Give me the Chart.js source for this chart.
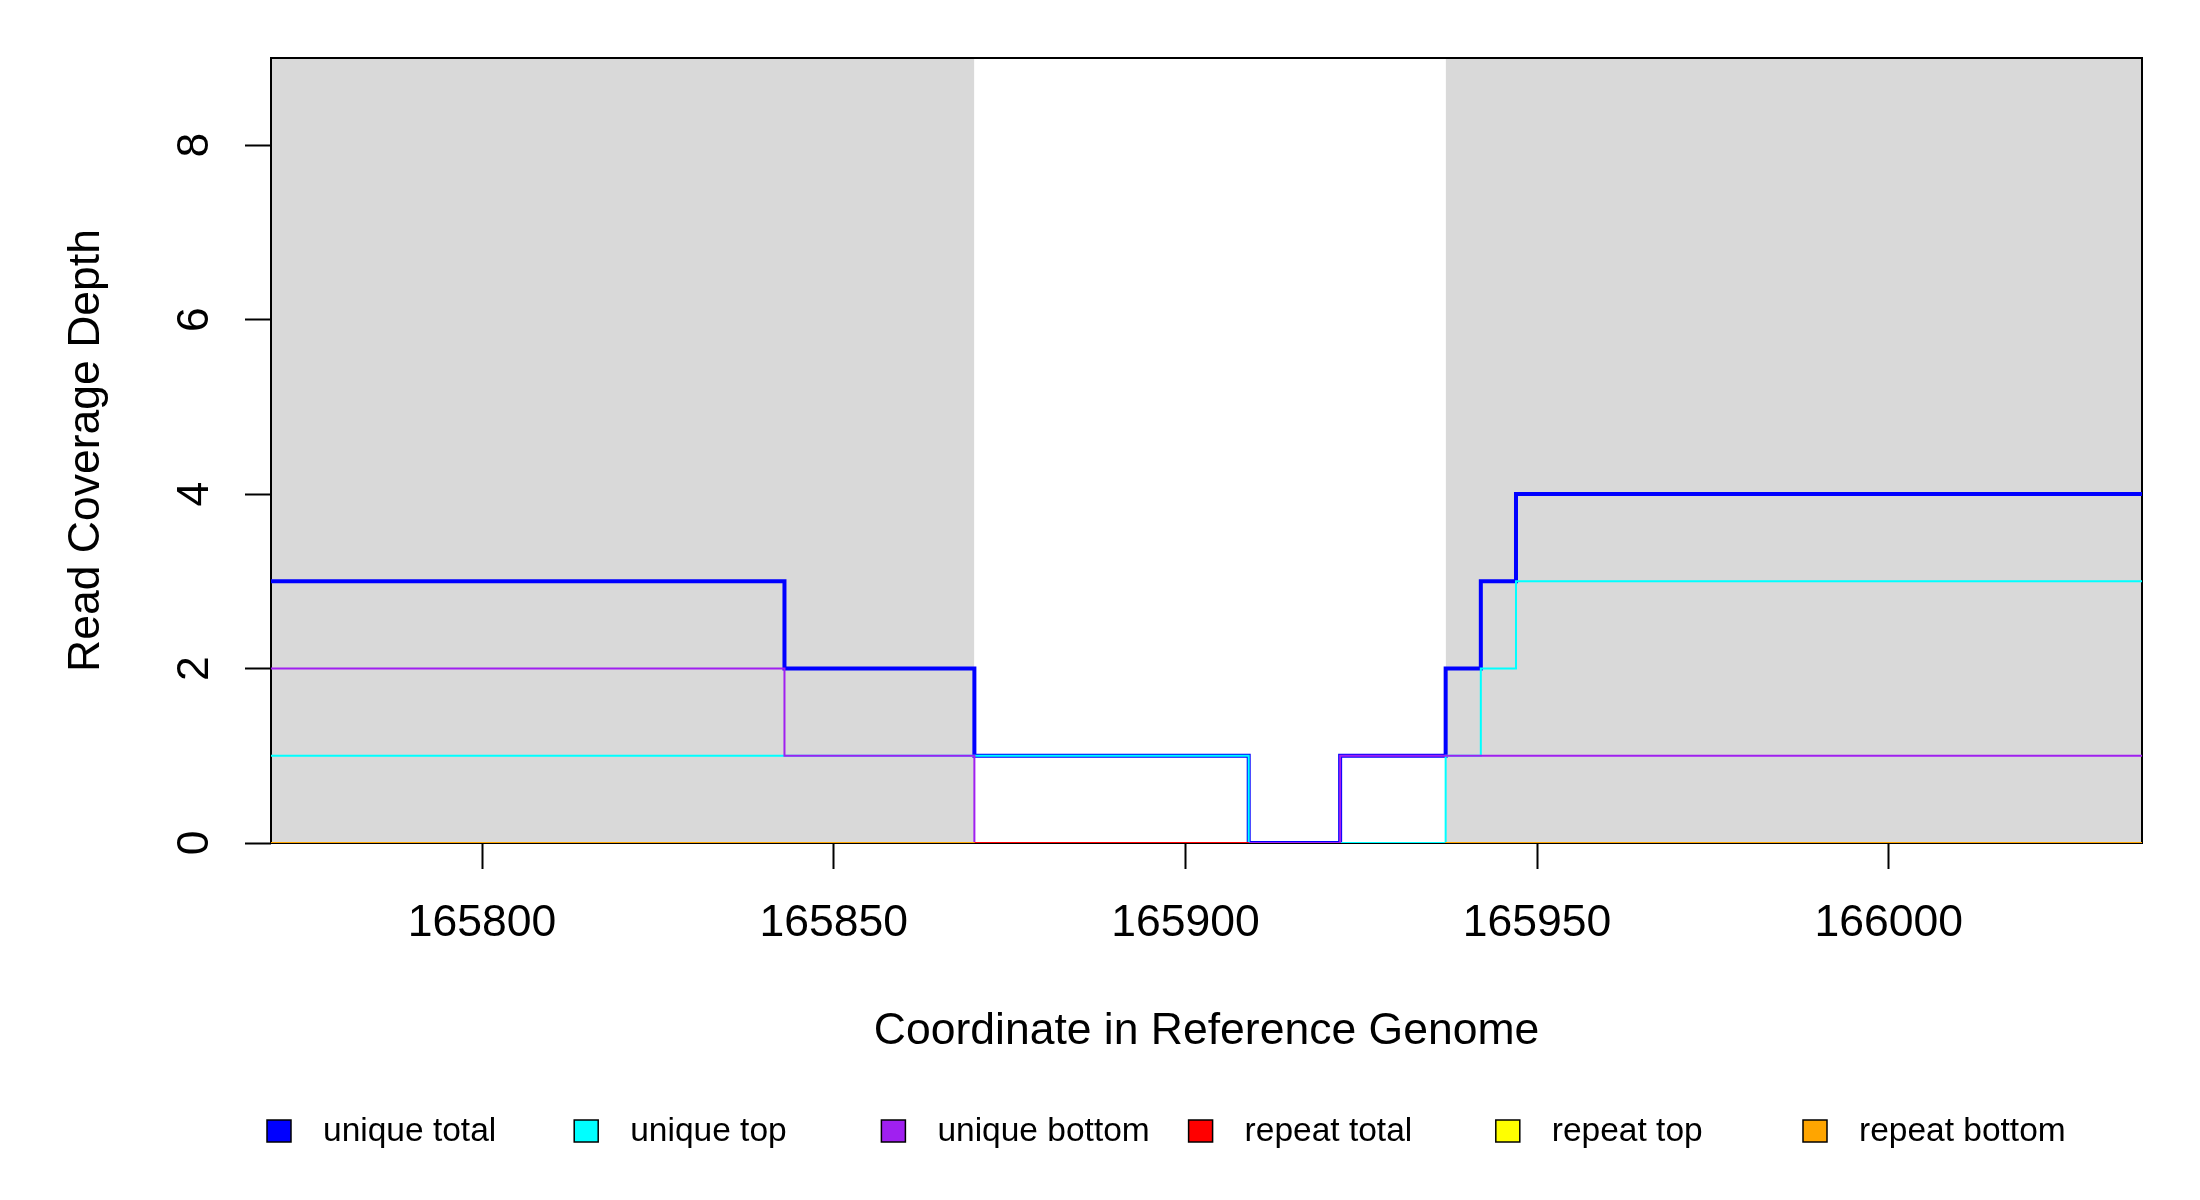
<!DOCTYPE html>
<html>
<head>
<meta charset="utf-8">
<script src="https://cdn.jsdelivr.net/npm/chart.js@4.4.1/dist/chart.umd.min.js"></script>
<style>
  body { margin: 0; background: #fff; }
  canvas { display: block; }
</style>
</head>
<body>
<canvas id="coverageChart" width="2200" height="1200"></canvas>
<script>
// breakpoints along the reference, each value holds until the next breakpoint
var positions = [165770, 165843, 165870, 165909, 165922, 165937, 165942, 165947, 166036];
var uniqueTotal = [3, 2, 1, 0, 1, 2, 3, 4, 4];
var uniqueTop = [1, 1, 1, 0, 0, 1, 2, 3, 3];
var uniqueBottom = [2, 1, 0, 0, 1, 1, 1, 1, 1];
var repeatTotal = [0, 0, 0, 0, null, 0, 0, 0, 0];
var repeatTop = [0, 0, 0, null, null, 0, 0, 0, 0];
var repeatBottom = [0, 0, 0, null, null, 0, 0, 0, 0];

// grey shaded regions
var shadeRegions = [[165770, 165870], [165937, 166036]];

var xMin = 165770, xMax = 166036;
var yMin = 0, yMax = 9;
var xTickStep = 50, yTickStep = 2;

var seriesNames = ['unique total', 'unique top', 'unique bottom', 'repeat total', 'repeat top', 'repeat bottom'];
var seriesColors = ['#0000ff', '#00ffff', '#a020f0', '#ff0000', '#ffff00', '#ffa500'];
var seriesValues = [uniqueTotal, uniqueTop, uniqueBottom, repeatTotal, repeatTop, repeatBottom];

var FONT = '"Liberation Sans", Arial, Helvetica, sans-serif';

function toPoints(vals) {
  return positions.map(function(x, i) { return { x: x, y: vals[i] }; });
}

var datasets = [];
shadeRegions.forEach(function(r, i) {
  datasets.push({
    isShade: true,
    data: [{ x: r[0], y: yMax }, { x: r[1], y: yMax }],
    borderWidth: 0,
    borderColor: 'rgba(0,0,0,0)',
    backgroundColor: '#d9d9d9',
    fill: 'origin',
    pointRadius: 0,
    order: 20 + i
  });
});
seriesNames.forEach(function(name, i) {
  datasets.push({
    label: name,
    data: toPoints(seriesValues[i]),
    borderColor: seriesColors[i],
    backgroundColor: seriesColors[i],
    borderWidth: i === 0 ? 4 : 2,
    stepped: 'before',
    fill: false,
    pointRadius: 0,
    spanGaps: false,
    order: 10 - i
  });
});

// frame around plot, drawn over the grey shading but under the lines
var framePlugin = {
  id: 'frame',
  afterDatasetDraw: function(chart, args) {
    if (!chart.data.datasets[args.index].isShade) return;
    var a = chart.chartArea, ctx = chart.ctx;
    ctx.save();
    ctx.strokeStyle = '#000';
    ctx.lineWidth = 2;
    ctx.strokeRect(a.left, a.top, a.right - a.left, a.bottom - a.top);
    ctx.restore();
  }
};

// R style horizontal legend with equally spaced items
var legendPlugin = {
  id: 'rLegend',
  afterDraw: function(chart) {
    var ctx = chart.ctx;
    var items = chart.data.datasets.filter(function(d) { return !d.isShade; });
    var x0 = 267, yMid = 1132, spacing = 307.2, box = 24;
    ctx.save();
    ctx.font = '33.5px ' + FONT;
    ctx.textBaseline = 'middle';
    ctx.textAlign = 'left';
    items.forEach(function(d, i) {
      var x = x0 + i * spacing;
      ctx.fillStyle = d.borderColor;
      ctx.fillRect(x, yMid - box / 2, box, box - 2);
      ctx.strokeStyle = '#000';
      ctx.lineWidth = 1.5;
      ctx.strokeRect(x, yMid - box / 2, box, box - 2);
      ctx.fillStyle = '#000';
      ctx.fillText(d.label, x + 56, yMid);
    });
    ctx.restore();
  }
};

function noEdgePadding(scale) {
  scale.paddingTop = 0;
  scale.paddingBottom = 0;
  scale.paddingLeft = 0;
  scale.paddingRight = 0;
}

new Chart(document.getElementById('coverageChart'), {
  type: 'line',
  data: { datasets: datasets },
  plugins: [framePlugin, legendPlugin],
  options: {
    responsive: false,
    animation: false,
    devicePixelRatio: 1,
    layout: { padding: { left: 60, top: 58, right: 58, bottom: 142 } },
    plugins: {
      legend: { display: false },
      tooltip: { enabled: false }
    },
    scales: {
      x: {
        type: 'linear',
        min: xMin,
        max: xMax,
        afterFit: function(scale) { scale.height = 215; noEdgePadding(scale); },
        border: { display: false },
        grid: { drawOnChartArea: false, tickLength: 26, tickColor: '#000', tickWidth: 2 },
        ticks: {
          stepSize: xTickStep,
          includeBounds: false,
          maxRotation: 0,
          padding: 28,
          color: '#000',
          font: { family: FONT, size: 44.5 },
          callback: function(v) { return String(v); }
        },
        title: {
          display: true,
          text: 'Coordinate in Reference Genome',
          color: '#000',
          font: { family: FONT, size: 44.5 },
          padding: 0
        }
      },
      y: {
        type: 'linear',
        min: yMin,
        max: yMax,
        afterFit: function(scale) { scale.width = 211; noEdgePadding(scale); },
        border: { display: false },
        grid: { drawOnChartArea: false, tickLength: 26, tickColor: '#000', tickWidth: 2 },
        ticks: {
          stepSize: yTickStep,
          includeBounds: false,
          minRotation: 90,
          maxRotation: 90,
          crossAlign: 'center',
          padding: 37,
          color: '#000',
          font: { family: FONT, size: 44.5 }
        },
        title: {
          display: true,
          text: 'Read Coverage Depth',
          color: '#000',
          font: { family: FONT, size: 44.5 },
          padding: 0
        }
      }
    }
  }
});
</script>
</body>
</html>
